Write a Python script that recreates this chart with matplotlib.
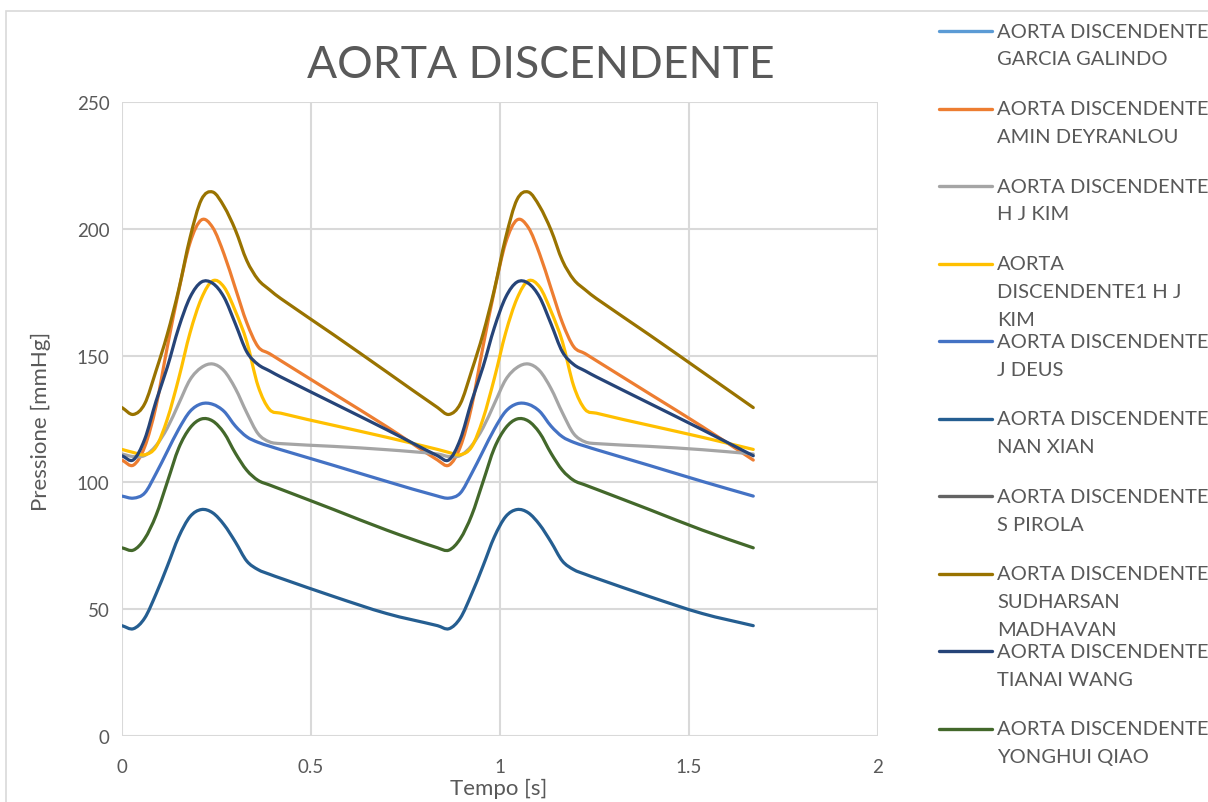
import matplotlib
matplotlib.use("Agg")
import matplotlib.pyplot as plt
from matplotlib.path import Path
from matplotlib.patches import PathPatch, Rectangle
from matplotlib.lines import Line2D

# ---- data -------------------------------------------------------------
tempo = [0.000, 0.030, 0.060, 0.090, 0.120, 0.150, 0.180, 0.210, 0.240,
         0.270, 0.300, 0.330, 0.360, 0.390, 0.420, 0.560, 0.700, 0.835,
         0.865, 0.895, 0.925, 0.955, 0.985, 1.015, 1.045, 1.075, 1.105,
         1.135, 1.165, 1.195, 1.225, 1.255, 1.395, 1.535, 1.670]

garcia_galindo = []
amin_deyranlou = [108.8, 106.8, 114.0, 130.0, 153.5, 175.5, 194.5, 203.5, 200.5,
                  190.0, 176.5, 163.0, 153.5, 150.8, 148.0, 135.0, 122.0, 108.8,
                  106.8, 114.0, 130.0, 153.5, 175.5, 194.5, 203.5, 200.5,
                  190.0, 176.5, 163.0, 153.5, 150.8, 148.0, 135.0, 122.0, 108.8]
hj_kim = [111.2, 110.2, 110.6, 114.5, 121.5, 131.0, 140.5, 145.3, 146.7,
          144.0, 137.0, 127.5, 119.2, 116.0, 115.3, 114.2, 112.9, 111.2,
          110.2, 110.6, 114.5, 121.5, 131.0, 140.5, 145.3, 146.7,
          144.0, 137.0, 127.5, 119.2, 116.0, 115.3, 114.2, 112.9, 111.2]
hj_kim_1 = [113.0, 111.8, 110.9, 114.0, 125.0, 141.0, 159.0, 172.5, 179.5,
            177.0, 167.5, 155.5, 138.0, 128.8, 127.3, 122.5, 117.8, 113.0,
            111.8, 110.9, 114.0, 125.0, 141.0, 159.0, 172.5, 179.5,
            177.0, 167.5, 155.5, 138.0, 128.8, 127.3, 122.5, 117.8, 113.0]
j_deus = [94.6, 93.8, 95.8, 103.5, 112.3, 121.0, 128.0, 131.0, 130.8,
          128.0, 122.2, 118.0, 115.8, 114.3, 112.9, 106.7, 100.4, 94.6,
          93.8, 95.8, 103.5, 112.3, 121.0, 128.0, 131.0, 130.8,
          128.0, 122.2, 118.0, 115.8, 114.3, 112.9, 106.7, 100.4, 94.6]
nan_xian = [43.5, 42.3, 46.5, 56.0, 67.0, 78.5, 86.5, 89.3, 88.0,
            83.3, 76.5, 69.0, 65.6, 63.8, 62.2, 55.0, 48.3, 43.5,
            42.3, 46.5, 56.0, 67.0, 78.5, 86.5, 89.3, 88.0,
            83.3, 76.5, 69.0, 65.6, 63.8, 62.2, 55.0, 48.3, 43.5]
s_pirola = []
sudharsan_madhavan = [129.5, 126.8, 131.0, 144.0, 158.5, 176.0, 196.5, 211.5, 214.5,
                      208.8, 199.5, 187.5, 180.0, 176.0, 172.5, 158.2, 143.6, 129.5,
                      126.8, 131.0, 144.0, 158.5, 176.0, 196.5, 211.5, 214.5,
                      208.8, 199.5, 187.5, 180.0, 176.0, 172.5, 158.2, 143.6, 129.5]
tianai_wang = [110.5, 108.9, 117.0, 132.0, 145.5, 161.0, 173.0, 179.0, 178.5,
               173.0, 162.5, 151.5, 146.5, 144.0, 141.6, 131.2, 120.8, 110.5,
               108.9, 117.0, 132.0, 145.5, 161.0, 173.0, 179.0, 178.5,
               173.0, 162.5, 151.5, 146.5, 144.0, 141.6, 131.2, 120.8, 110.5]
yonghui_qiao = [74.2, 73.3, 77.8, 87.0, 100.2, 113.5, 121.5, 125.0, 124.2,
                119.5, 111.5, 104.8, 100.8, 99.0, 97.3, 89.3, 81.2, 74.2,
                73.3, 77.8, 87.0, 100.2, 113.5, 121.5, 125.0, 124.2,
                119.5, 111.5, 104.8, 100.8, 99.0, 97.3, 89.3, 81.2, 74.2]

series_names = [
    "AORTA DISCENDENTE\nGARCIA GALINDO",
    "AORTA DISCENDENTE\nAMIN DEYRANLOU",
    "AORTA DISCENDENTE\nH J KIM",
    "AORTA\nDISCENDENTE1 H J\nKIM",
    "AORTA DISCENDENTE\nJ DEUS",
    "AORTA DISCENDENTE\nNAN XIAN",
    "AORTA DISCENDENTE\nS PIROLA",
    "AORTA DISCENDENTE\nSUDHARSAN\nMADHAVAN",
    "AORTA DISCENDENTE\nTIANAI WANG",
    "AORTA DISCENDENTE\nYONGHUI QIAO",
]
series_values = [garcia_galindo, amin_deyranlou, hj_kim, hj_kim_1, j_deus,
                 nan_xian, s_pirola, sudharsan_madhavan, tianai_wang, yonghui_qiao]
series_colors = ["#5B9BD5", "#ED7D31", "#A5A5A5", "#FFC000", "#4472C4",
                 "#255E91", "#636363", "#997300", "#264478", "#43682B"]

x_ticks = [0, 0.5, 1, 1.5, 2]
x_tick_labels = ["0", "0.5", "1", "1.5", "2"]
y_ticks = [0, 50, 100, 150, 200, 250]

TEXT = "#595959"
GRID = "#D9D9D9"
plt.rcParams["font.family"] = ["Lato", "DejaVu Sans"]

W, H = 1208, 803


def smooth_path(t, p):
    """Smoothed line through the points as cubic Bezier segments."""
    n = len(t)
    m = []
    for i in range(n):
        a, b = max(i - 1, 0), min(i + 1, n - 1)
        m.append((p[b] - p[a]) / (t[b] - t[a]))
    verts = [(t[0], p[0])]
    codes = [Path.MOVETO]
    for i in range(n - 1):
        h = t[i + 1] - t[i]
        verts += [(t[i] + h / 3, p[i] + m[i] * h / 3),
                  (t[i + 1] - h / 3, p[i + 1] - m[i + 1] * h / 3),
                  (t[i + 1], p[i + 1])]
        codes += [Path.CURVE4] * 3
    return Path(verts, codes)


fig = plt.figure(figsize=(W / 100, H / 100), dpi=100)
ax = fig.add_axes([122 / W, (H - 737) / H, (878 - 122) / W, (737 - 103) / H])
ax.set_xlim(0, 2)
ax.set_ylim(0, 250)
ax.set_xticks(x_ticks)
ax.set_xticklabels(x_tick_labels)
ax.set_yticks(y_ticks)
ax.grid(True, color=GRID, lw=1.5)
ax.set_axisbelow(True)
for s in ax.spines.values():
    s.set_visible(False)
ax.tick_params(axis="both", length=0, colors=TEXT, labelsize=13.5)
ax.tick_params(axis="y", pad=9)
ax.tick_params(axis="x", pad=16)

for vals, col in zip(series_values, series_colors):
    if len(vals) == len(tempo):
        ax.add_patch(PathPatch(smooth_path(tempo, vals), facecolor="none",
                               edgecolor=col, lw=2.3, capstyle="round",
                               joinstyle="round"))

# titles
fig.text(541 / W, 1 - 66 / H, "AORTA DISCENDENTE", ha="center", va="center",
         fontsize=32, color=TEXT)
fig.text(41 / W, 1 - 421 / H, "Pressione [mmHg]", ha="center", va="center",
         rotation=90, fontsize=16, color=TEXT)
fig.text(499 / W, 1 - 789 / H, "Tempo [s]", ha="center", va="center",
         fontsize=16, color=TEXT)

# chart frame
fig.add_artist(Rectangle((6 / W, -0.05), 1.2, 1 - 12 / H + 0.05,
                         transform=fig.transFigure, fill=False,
                         edgecolor=GRID, lw=1.2))

# legend
for i, (name, col) in enumerate(zip(series_names, series_colors)):
    y0 = 32 + i * 77.55
    fig.add_artist(Line2D([939 / W, 992 / W], [1 - y0 / H, 1 - y0 / H],
                          transform=fig.transFigure, color=col, lw=2.4,
                          solid_capstyle="round"))
    for k, line in enumerate(name.split("\n")):
        fig.text(997 / W, 1 - (y0 + k * 27.8) / H, line, ha="left",
                 va="center", fontsize=14.5, color=TEXT)

fig.savefig("out.png", dpi=100)
